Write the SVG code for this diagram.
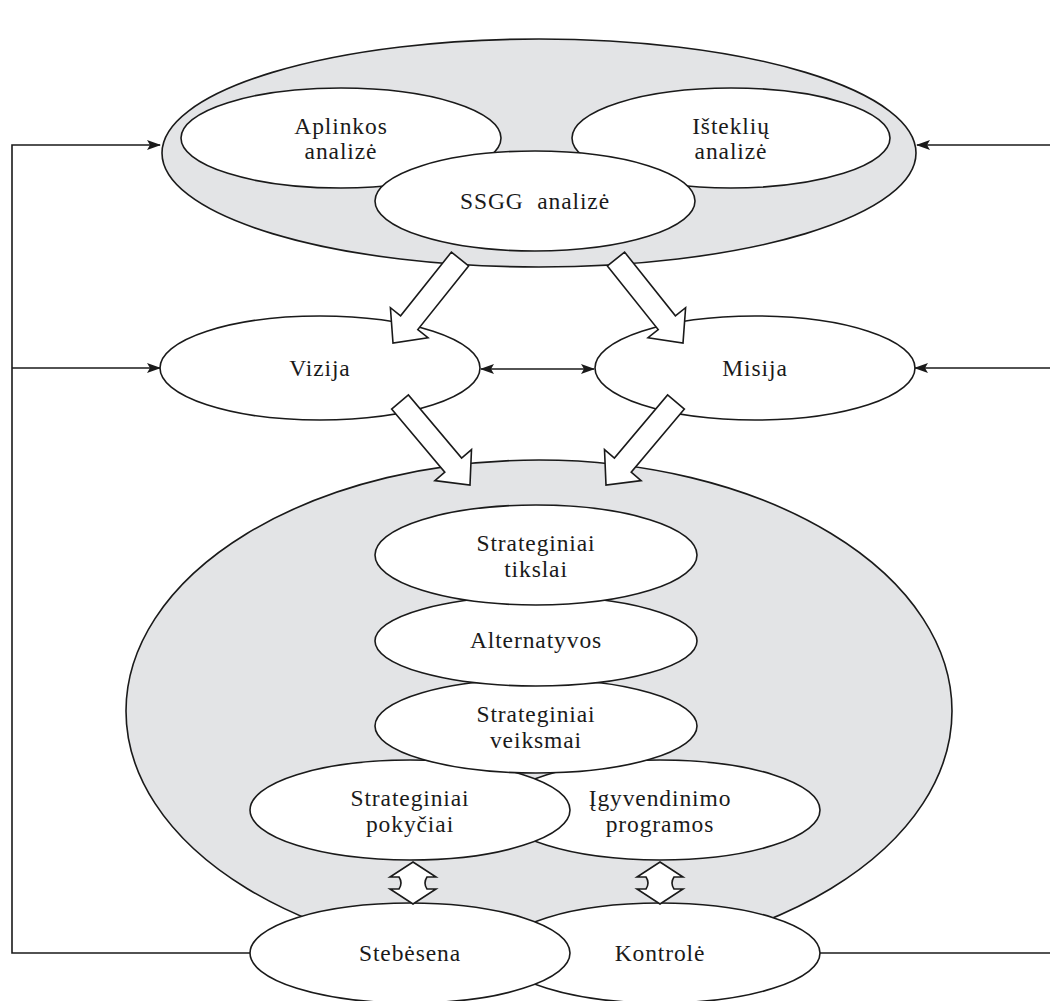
<svg xmlns="http://www.w3.org/2000/svg" width="1050" height="1001" viewBox="0 0 1050 1001">
  <style>
    .big { fill: #e3e4e6; stroke: #1a1a1a; stroke-width: 1.6; }
    .node { fill: #ffffff; stroke: #1a1a1a; stroke-width: 1.6; }
    .lbl { font-family: "Liberation Serif", "Times New Roman", serif; font-size: 23.5px; letter-spacing: 0.9px; fill: #1a1a1a; text-anchor: middle; }
    .line { fill: none; stroke: #1a1a1a; stroke-width: 1.6; }
    .block { fill: #ffffff; stroke: #1a1a1a; stroke-width: 1.6; stroke-linejoin: miter; }
  </style>
  <defs>
    <marker id="ah" viewBox="0 0 14 10" refX="13" refY="5" markerWidth="14" markerHeight="10" markerUnits="userSpaceOnUse" orient="auto-start-reverse">
      <path d="M0,0 L14,5 L0,10 L3,5 z" fill="#1a1a1a"/>
    </marker>
  </defs>
  <rect x="0" y="0" width="1050" height="1001" fill="#ffffff"/>

  <!-- Analysis container -->
  <g id="analysis-area">
    <ellipse class="big" cx="539" cy="153" rx="377" ry="114"/>
  </g>
  <g id="aplinkos">
    <ellipse class="node" cx="341" cy="138" rx="160" ry="50"/>
    <text class="lbl" x="341" y="134">Aplinkos</text>
    <text class="lbl" x="341" y="159">analizė</text>
  </g>
  <g id="istekliu">
    <ellipse class="node" cx="731" cy="138" rx="159" ry="50"/>
    <text class="lbl" x="731" y="134">Išteklių</text>
    <text class="lbl" x="731" y="159">analizė</text>
  </g>
  <g id="ssgg">
    <ellipse class="node" cx="535" cy="201" rx="160" ry="50"/>
    <text class="lbl" x="535" y="209" xml:space="preserve">SSGG  analizė</text>
  </g>

  <g id="vizija">
    <ellipse class="node" cx="320" cy="368" rx="160" ry="52"/>
    <text class="lbl" x="320" y="376">Vizija</text>
  </g>
  <g id="misija">
    <ellipse class="node" cx="755" cy="368" rx="160" ry="52"/>
    <text class="lbl" x="755" y="376">Misija</text>
  </g>

  <!-- Strategy container -->
  <g id="strategy-area">
    <ellipse class="big" cx="539" cy="711" rx="413" ry="251"/>
  </g>
  <g id="igyvendinimo">
    <ellipse class="node" cx="660" cy="810" rx="160" ry="50"/>
    <text class="lbl" x="660" y="806">Įgyvendinimo</text>
    <text class="lbl" x="660" y="832">programos</text>
  </g>
  <g id="pokyciai">
    <ellipse class="node" cx="410" cy="810" rx="160" ry="50"/>
    <text class="lbl" x="410" y="806">Strateginiai</text>
    <text class="lbl" x="410" y="832">pokyčiai</text>
  </g>
  <g id="veiksmai">
    <ellipse class="node" cx="536" cy="726" rx="161" ry="47"/>
    <text class="lbl" x="536" y="722">Strateginiai</text>
    <text class="lbl" x="536" y="748">veiksmai</text>
  </g>
  <g id="alternatyvos">
    <ellipse class="node" cx="536" cy="641" rx="161" ry="45"/>
    <text class="lbl" x="536" y="648">Alternatyvos</text>
  </g>
  <g id="tikslai">
    <ellipse class="node" cx="536" cy="555" rx="161" ry="50"/>
    <text class="lbl" x="536" y="551">Strateginiai</text>
    <text class="lbl" x="536" y="577">tikslai</text>
  </g>

  <g id="kontrole">
    <ellipse class="node" cx="660" cy="953" rx="160" ry="50"/>
    <text class="lbl" x="660" y="961">Kontrolė</text>
  </g>
  <g id="stebesena">
    <ellipse class="node" cx="410" cy="953" rx="160" ry="50"/>
    <text class="lbl" x="410" y="961">Stebėsena</text>
  </g>

  <!-- Connectors -->
  <g id="connectors">
    <!-- left feedback loop -->
    <polyline class="line" points="250,953 12,953 12,145 160,145" marker-end="url(#ah)"/>
    <line class="line" x1="12" y1="368" x2="160" y2="368" marker-end="url(#ah)"/>
    <!-- right feedback loop -->
    <line class="line" x1="1050" y1="145" x2="917" y2="145" marker-end="url(#ah)"/>
    <line class="line" x1="1050" y1="368" x2="915" y2="368" marker-end="url(#ah)"/>
    <line class="line" x1="820" y1="953" x2="1050" y2="953"/>
    <!-- Vizija <-> Misija -->
    <line class="line" x1="481" y1="369" x2="594" y2="369" marker-start="url(#ah)" marker-end="url(#ah)"/>
    <!-- hollow block arrows -->
    <polygon class="block" points="468.6,265.9 417.8,329.6 428.0,337.7 393,343 390.4,307.7 400.6,315.8 451.4,252.1"/>
    <polygon class="block" points="607.4,265.9 658.2,329.6 648.0,337.7 683,343 685.6,307.7 675.4,315.8 624.6,252.1"/>
    <polygon class="block" points="391.6,409.1 444.8,472.2 434.9,480.6 470,485 471.5,449.6 461.6,458.0 408.4,394.9"/>
    <polygon class="block" points="684.4,409.1 631.2,472.2 641.1,480.6 606,485 604.5,449.6 614.4,458.0 667.6,394.9"/>
    <!-- double hollow arrows -->
    <path class="block" d="M413,862 L436,877 L427,877 Q423,883 427,889 L436,889 L413,904 L390,889 L399,889 Q403,883 399,877 L390,877 Z"/>
    <path class="block" d="M660,862 L683,877 L674,877 Q670,883 674,889 L683,889 L660,904 L637,889 L646,889 Q650,883 646,877 L637,877 Z"/>
  </g>
</svg>
